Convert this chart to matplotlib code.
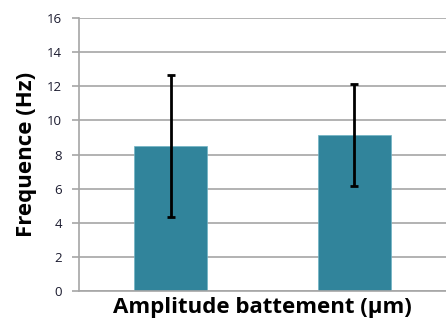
import matplotlib.pyplot as plt

categories = ['A', 'B']
values = [8.5, 9.15]
errors = [4.15, 3.0]

plt.rcParams['font.family'] = ['Open Sans', 'DejaVu Sans']

fig = plt.figure(figsize=(4.46, 3.29), dpi=100)
ax = fig.add_axes([0.177, 0.1155, 0.823, 0.8295])

x = range(len(categories))
ax.bar(x, values, width=0.4, color='#31849b', edgecolor='#6fb3c4', linewidth=0.5, zorder=2)
ax.errorbar(x, values, yerr=errors, fmt='none', ecolor='black', elinewidth=2,
            capsize=3, capthick=2, zorder=3)

ax.set_xlim(-0.5, 1.5)
ax.set_ylim(0, 16)
ax.set_yticks(range(0, 17, 2))
ax.set_xticks([])
ax.yaxis.grid(True, color='#a6a6a6', linewidth=1.2, zorder=0)
ax.set_axisbelow(True)

for s in ['top', 'right']:
    ax.spines[s].set_visible(False)
ax.spines['left'].set_color('#a6a6a6')
ax.spines['bottom'].set_color('#a6a6a6')
ax.spines['left'].set_linewidth(1.2)
ax.spines['bottom'].set_linewidth(1.2)
ax.tick_params(axis='y', colors='#a6a6a6', labelcolor='#1a1a2e', labelsize=9.5,
               length=5, width=1.2, pad=7)

ax.set_ylabel('Frequence (Hz)', fontsize=16, fontweight='bold', labelpad=7)
ax.set_xlabel('Amplitude battement (µm)', fontsize=16, fontweight='bold', labelpad=4)

fig.savefig('out.png', dpi=100)
